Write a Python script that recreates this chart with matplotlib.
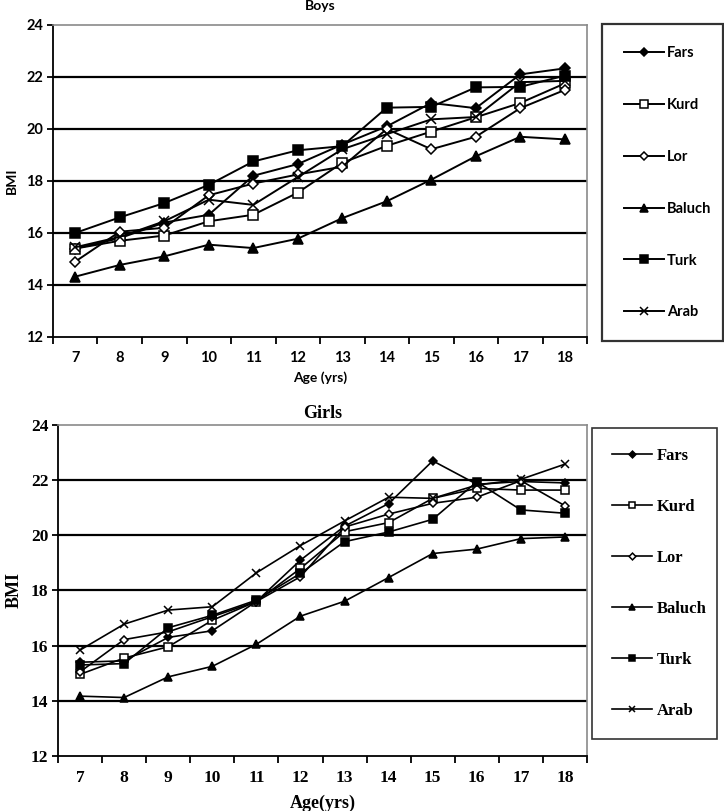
import matplotlib
matplotlib.use('Agg')
import matplotlib.pyplot as plt

ages = ['7', '8', '9', '10', '11', '12', '13', '14', '15', '16', '17', '18']
groups = ['Fars', 'Kurd', 'Lor', 'Baluch', 'Turk', 'Arab']

boys_fars = [15.4, 15.8, 16.4, 16.7, 18.2, 18.65, 19.4, 20.1, 21.0, 20.8, 22.1, 22.33]
boys_kurd = [15.4, 15.7, 15.9, 16.45, 16.7, 17.55, 18.7, 19.35, 19.9, 20.45, 21.0, 21.75]
boys_lor = [14.9, 16.05, 16.2, 17.45, 17.9, 18.25, 18.55, 20.0, 19.22, 19.7, 20.8, 21.5]
boys_baluch = [14.32, 14.77, 15.1, 15.55, 15.42, 15.78, 16.57, 17.22, 18.05, 18.95, 19.7, 19.6]
boys_turk = [16.0, 16.6, 17.15, 17.85, 18.75, 19.18, 19.34, 20.82, 20.85, 21.6, 21.62, 22.05]
boys_arab = [15.45, 15.85, 16.45, 17.28, 17.08, 18.15, 19.22, 19.8, 20.37, 20.46, 21.8, 21.85]

girls_fars = [15.4, 15.45, 16.3, 16.54, 17.6, 19.1, 20.33, 21.15, 22.7, 21.85, 21.95, 21.9]
girls_kurd = [14.96, 15.55, 15.96, 16.92, 17.6, 18.8, 20.13, 20.46, 21.34, 21.7, 21.64, 21.64]
girls_lor = [15.05, 16.22, 16.5, 17.05, 17.6, 18.5, 20.3, 20.77, 21.16, 21.38, 21.98, 21.07]
girls_baluch = [14.17, 14.12, 14.87, 15.25, 16.05, 17.07, 17.61, 18.47, 19.34, 19.5, 19.88, 19.94]
girls_turk = [15.3, 15.35, 16.65, 17.1, 17.65, 18.62, 19.77, 20.12, 20.58, 21.94, 20.92, 20.8]
girls_arab = [15.84, 16.78, 17.29, 17.41, 18.64, 19.63, 20.52, 21.38, 21.34, 21.82, 22.03, 22.58]

boys = [boys_fars, boys_kurd, boys_lor, boys_baluch, boys_turk, boys_arab]
girls = [girls_fars, girls_kurd, girls_lor, girls_baluch, girls_turk, girls_arab]

# marker, facecolor for each group
styles = [('D', 'black'), ('s', 'white'), ('D', 'white'), ('^', 'black'), ('s', 'black'), ('x', 'black')]


def draw_panel(ax, data, font, fsize, msize, lw):
    x = list(range(len(ages)))
    for vals, (mk, fc), name in zip(data, styles, groups):
        ms = msize * 0.72 if mk == 'D' else msize
        ax.plot(x, vals, color='black', lw=lw, marker=mk, markersize=ms,
                markerfacecolor=fc, markeredgecolor='black', markeredgewidth=1.1,
                label=name, zorder=3)
    ax.set_ylim(12, 24)
    ax.set_yticks([12, 14, 16, 18, 20, 22, 24])
    ax.set_xlim(-0.5, len(ages) - 0.5)
    ax.set_xticks([i - 0.5 for i in range(len(ages) + 1)])
    ax.set_xticklabels([])
    ax.set_xticks(x, minor=True)
    ax.set_xticklabels(ages, minor=True, fontfamily=font, fontweight='bold', fontsize=fsize)
    ax.tick_params(axis='x', which='minor', length=0, pad=10)
    ax.tick_params(axis='x', which='major', direction='out', length=5, width=1.3)
    ax.tick_params(axis='y', direction='out', length=4, width=1.3, pad=3)
    for lab in ax.get_yticklabels():
        lab.set_fontfamily(font)
        lab.set_fontweight('bold')
        lab.set_fontsize(fsize)
    for yv in [14, 16, 18, 20, 22]:
        ax.axhline(yv, color='black', lw=1.6, zorder=1)
    ax.spines['left'].set_color('black')
    ax.spines['bottom'].set_color('black')
    ax.spines['left'].set_linewidth(1.3)
    ax.spines['bottom'].set_linewidth(1.3)
    ax.spines['top'].set_color('#8a8a8a')
    ax.spines['right'].set_color('#8a8a8a')
    ax.spines['top'].set_linewidth(1.2)
    ax.spines['right'].set_linewidth(1.2)


fig = plt.figure(figsize=(7.24, 8.11), dpi=100)

ax1 = fig.add_axes([0.0732, 0.5845, 0.7376, 0.3847])
draw_panel(ax1, boys, 'Lato', 10.5, 7, 1.4)
ax1.set_title('Boys', fontfamily='Lato', fontweight='bold', fontsize=10, pad=11)
ax1.set_xlabel('Age (yrs)', fontfamily='Lato', fontweight='bold', fontsize=10, labelpad=5)
ax1.set_ylabel('BMI', fontfamily='Lato', fontweight='bold', fontsize=10, labelpad=6)

ax2 = fig.add_axes([0.0801, 0.0678, 0.7307, 0.4082])
draw_panel(ax2, girls, 'Liberation Serif', 12.5, 6, 1.2)
ax2.set_title('Girls', fontfamily='Liberation Serif', fontweight='bold', fontsize=13, pad=5)
ax2.set_xlabel('Age(yrs)', fontfamily='Liberation Serif', fontweight='bold', fontsize=13, labelpad=6)
ax2.set_ylabel('BMI', fontfamily='Liberation Serif', fontweight='bold', fontsize=13, labelpad=6)

h1, l1 = ax1.get_legend_handles_labels()
leg1 = fig.legend(h1, l1, loc='upper left', bbox_to_anchor=(602 / 724, 1 - 24 / 811, 121 / 724, 0),
                  mode='expand', frameon=True, fancybox=False, edgecolor='black',
                  prop={'family': 'Lato', 'weight': 'bold', 'size': 10.5}, markerscale=0.75,
                  labelspacing=2.6, handlelength=2.75, handletextpad=0.2, borderpad=1.5,
                  borderaxespad=0)
leg1.get_frame().set_linewidth(1.6)

h2, l2 = ax2.get_legend_handles_labels()
leg2 = fig.legend(h2, l2, loc='upper left', bbox_to_anchor=(592 / 724, 1 - 428 / 811, 125 / 724, 0),
                  mode='expand', frameon=True, fancybox=False, edgecolor='black',
                  prop={'family': 'Liberation Serif', 'weight': 'bold', 'size': 12}, markerscale=0.8,
                  labelspacing=2.1, handlelength=2.4, handletextpad=0.3, borderpad=1.2,
                  borderaxespad=0)
leg2.get_frame().set_linewidth(1.2)

fig.savefig('out.png', dpi=100)
